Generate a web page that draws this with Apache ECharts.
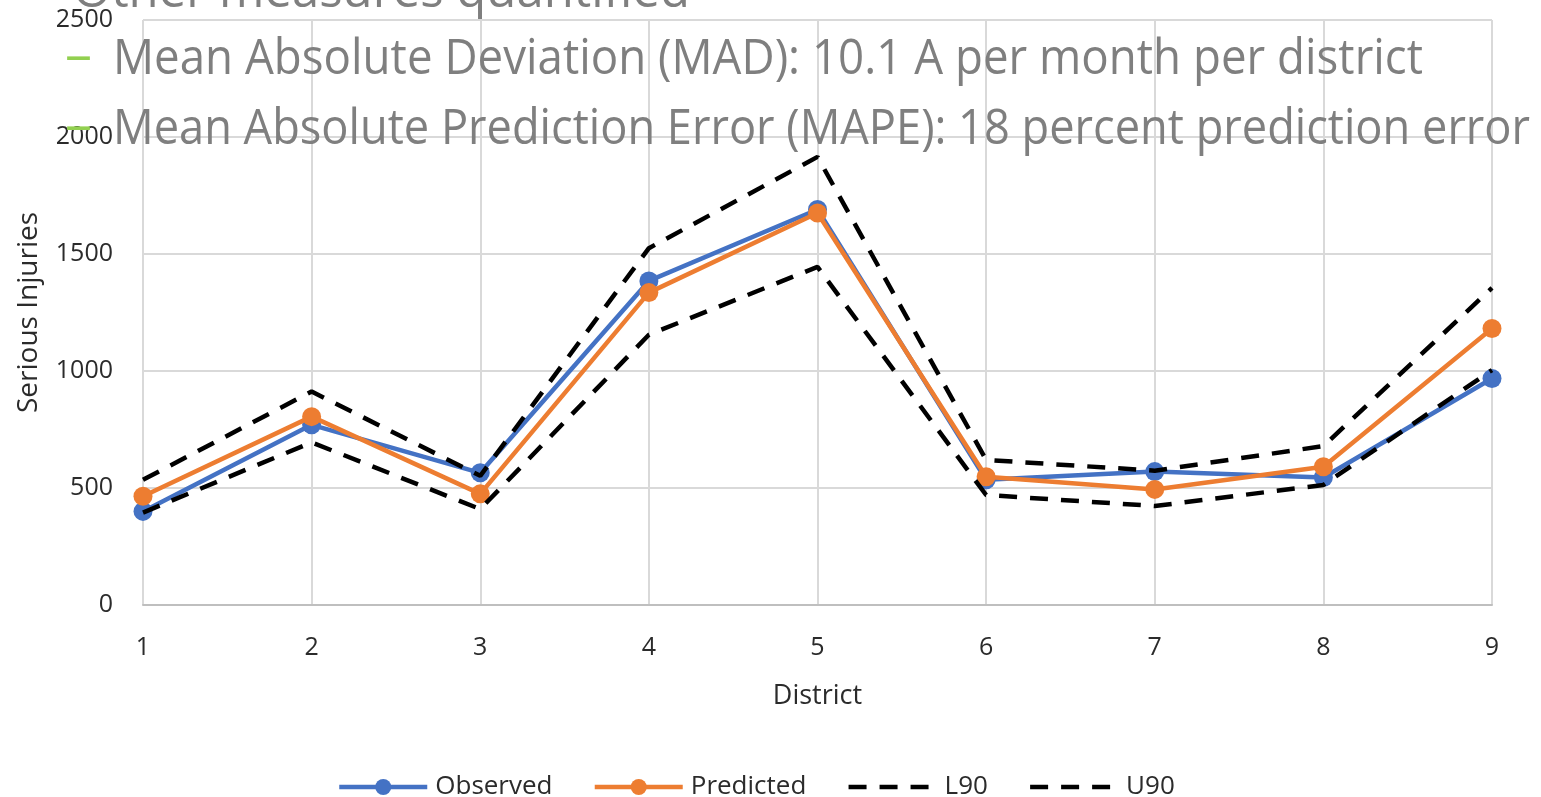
<!DOCTYPE html>
<html>
<head>
<meta charset="utf-8">
<script src="https://cdn.jsdelivr.net/npm/echarts@6/dist/echarts.min.js"></script>
<style>
html,body{margin:0;padding:0;background:#fff;}
#chart{width:1541px;height:797px;}
</style>
</head>
<body>
<div id="chart"></div>
<script>
const districts = ['1','2','3','4','5','6','7','8','9'];
const observed  = [400, 770, 565, 1385, 1690, 535, 570, 545, 968];
const predicted = [465, 805, 475, 1335, 1675, 548, 494, 591, 1182];
const l90       = [395, 695, 410, 1155, 1445, 470, 423, 513, 1004];
const u90       = [535, 912, 552, 1525, 1915, 620, 574, 679, 1355];
const yTicks    = {min: 0, max: 2500, interval: 500};
const overlayHeading = 'Other measures quantified';
const overlayLines = [
  'Mean Absolute Deviation (MAD): 10.1 A per month per district',
  'Mean Absolute Prediction Error (MAPE): 18 percent prediction error'
];
const bullet = '–';

const FONT = '"Open Sans", "Noto Sans", sans-serif';
const canvas = document.createElement('canvas');
const ctx = canvas.getContext('2d');
function fitScale(text, font, target){
  ctx.font = font;
  return target / ctx.measureText(text).width;
}
const bigFont = '50px ' + FONT;

const chart = echarts.init(document.getElementById('chart'));
const txtColor = '#2b2b2b';
const gridColor = '#d9d9d9';

const option = {
  animation: false,
  backgroundColor: '#ffffff',
  grid: {left: 143, right: 49, top: 20, bottom: 192, containLabel: false},
  xAxis: {
    type: 'category',
    data: districts,
    boundaryGap: false,
    name: 'District',
    nameLocation: 'middle',
    nameGap: 78,
    nameTextStyle: {fontFamily: FONT, fontSize: 27, color: txtColor},
    axisLine: {show: true, lineStyle: {color: '#bfbfbf', width: 2}},
    axisTick: {show: false},
    axisLabel: {fontFamily: FONT, fontSize: 25, color: txtColor, margin: 30},
    splitLine: {show: true, lineStyle: {color: gridColor, width: 2}}
  },
  yAxis: {
    type: 'value',
    min: yTicks.min, max: yTicks.max, interval: yTicks.interval,
    name: 'Serious Injuries',
    nameLocation: 'middle',
    nameGap: 100,
    nameRotate: 90,
    nameTextStyle: {fontFamily: FONT, fontSize: 28, color: txtColor},
    axisLine: {show: false},
    axisTick: {show: false},
    axisLabel: {fontFamily: FONT, fontSize: 25, color: txtColor, margin: 30,
                formatter: function(v){ return String(v); }},
    splitLine: {show: true, lineStyle: {color: gridColor, width: 2}}
  },
  legend: {
    top: 769,
    left: 332,
    itemWidth: 88,
    itemHeight: 20,
    itemGap: 40,
    lineStyle: {width: 4.5},
    textStyle: {fontFamily: FONT, fontSize: 26, color: txtColor, padding: [0,0,0,3]},
    data: [
      {name: 'Observed'},
      {name: 'Predicted'},
      {name: 'L90', itemStyle: {opacity: 0}},
      {name: 'U90', itemStyle: {opacity: 0}}
    ]
  },
  series: [
    {name: 'Observed', type: 'line', data: observed, symbol: 'circle', symbolSize: 19,
     itemStyle: {color: '#4472C4'}, lineStyle: {color: '#4472C4', width: 4.5}, z: 2},
    {name: 'Predicted', type: 'line', data: predicted, symbol: 'circle', symbolSize: 19,
     itemStyle: {color: '#ED7D31'}, lineStyle: {color: '#ED7D31', width: 4.5}, z: 3},
    {name: 'L90', type: 'line', data: l90, symbol: 'none', showSymbol: false,
     itemStyle: {color: '#000000'}, lineStyle: {color: '#000000', width: 4.5, type: [18, 13]}, z: 4},
    {name: 'U90', type: 'line', data: u90, symbol: 'none', showSymbol: false,
     itemStyle: {color: '#000000'}, lineStyle: {color: '#000000', width: 4.5, type: [18, 13]}, z: 5}
  ],
  graphic: [
    {type: 'text', x: 73, y: -7, z: 100, scaleX: fitScale(overlayHeading, bigFont, 617),
     style: {text: overlayHeading, font: bigFont, fill: '#7f7f7f', verticalAlign: 'middle'}},
    {type: 'text', x: 65, y: 58, z: 100, scaleX: fitScale(bullet, bigFont, 27),
     style: {text: bullet, font: bigFont, fill: '#92D050', verticalAlign: 'middle'}},
    {type: 'text', x: 113, y: 60, z: 100, scaleX: fitScale(overlayLines[0], bigFont, 1310),
     style: {text: overlayLines[0], font: bigFont, fill: '#7f7f7f', verticalAlign: 'middle'}},
    {type: 'text', x: 65, y: 128, z: 100, scaleX: fitScale(bullet, bigFont, 27),
     style: {text: bullet, font: bigFont, fill: '#92D050', verticalAlign: 'middle'}},
    {type: 'text', x: 113, y: 130, z: 100, scaleX: fitScale(overlayLines[1], bigFont, 1417),
     style: {text: overlayLines[1], font: bigFont, fill: '#7f7f7f', verticalAlign: 'middle'}}
  ]
};
chart.setOption(option);
</script>
</body>
</html>
